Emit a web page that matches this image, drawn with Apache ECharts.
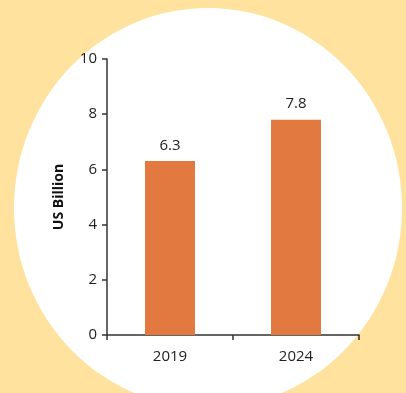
<!DOCTYPE html>
<html>
<head>
<meta charset="utf-8">
<script src="https://cdn.jsdelivr.net/npm/echarts@6/dist/echarts.min.js"></script>
<style>
  html, body { margin: 0; padding: 0; background: #fee29d; }
  #chart { width: 406px; height: 393px; }
</style>
</head>
<body>
<div id="chart"></div>
<script>
// market size, US Billion
var years = ['2019', '2024'];
var values = [6.3, 7.8];

var chart = echarts.init(document.getElementById('chart'));
chart.setOption({
    backgroundColor: '#fee29d',
    animation: false,
    textStyle: { fontFamily: 'Open Sans' },
    graphic: [
        {
            // white backdrop circle
            type: 'circle',
            z: -10,
            x: 208,
            y: 208,
            scaleX: 0.97,
            shape: { cx: 0, cy: 0, r: 200 },
            style: { fill: '#ffffff' }
        }
    ],
    grid: { left: 107, right: 47, top: 59, bottom: 58 },
    xAxis: {
        type: 'category',
        data: years,
        axisLine: { lineStyle: { color: '#333', width: 1.5 } },
        axisTick: { show: true, length: 5, lineStyle: { color: '#333', width: 1.5 } },
        axisLabel: { color: '#222', fontSize: 15, margin: 14 }
    },
    yAxis: {
        type: 'value',
        min: 0,
        max: 10,
        interval: 2,
        name: 'US Billion',
        nameLocation: 'middle',
        nameGap: 41,
        nameTextStyle: { color: '#111', fontSize: 14, fontWeight: 'bold' },
        splitLine: { show: false },
        axisLine: { show: true, lineStyle: { color: '#333', width: 1.5 } },
        axisTick: { show: true, length: 5, lineStyle: { color: '#333', width: 1.5 } },
        axisLabel: { color: '#222', fontSize: 15, margin: 10 }
    },
    series: [
        {
            type: 'bar',
            data: values,
            barWidth: 50,
            itemStyle: { color: '#e27940' },
            label: {
                show: true,
                position: 'top',
                distance: 8,
                color: '#222',
                fontSize: 15
            }
        }
    ]
});
</script>
</body>
</html>
